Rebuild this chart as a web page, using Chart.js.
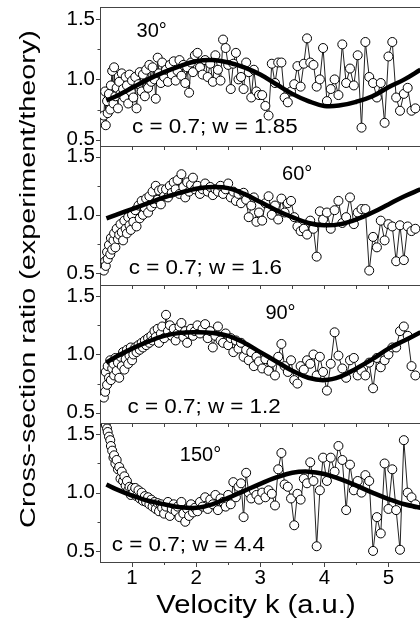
<!DOCTYPE html>
<html>
<head>
<meta charset="utf-8">
<script src="https://cdn.jsdelivr.net/npm/chart.js@4.4.0/dist/chart.umd.min.js"></script>
<style>
  html, body { margin: 0; padding: 0; overflow: hidden; background: #fff; }
  canvas { display: block; }
</style>
</head>
<body>
<canvas id="myChart" width="426" height="621"></canvas>
<script>
// velocity k of the measured points (same energies for every angle)
const kExp = [
  0.56, 0.58, 0.59, 0.61, 0.62, 0.64, 0.66, 0.67, 0.69, 0.71, 0.72, 0.74, 0.76, 0.78, 0.80, 0.82, 0.84, 0.86, 0.88, 0.90, 0.92, 0.94, 0.96, 0.98, 1.00,
  1.02, 1.05, 1.07, 1.10, 1.12, 1.15, 1.17, 1.20, 1.22, 1.25, 1.27, 1.30, 1.32, 1.35, 1.37, 1.40, 1.42, 1.45, 1.47, 1.50,
  1.53, 1.56, 1.59, 1.62, 1.65, 1.68, 1.71, 1.74, 1.77, 1.80, 1.83, 1.86, 1.89, 1.92, 1.95, 1.98,
  2.02, 2.06, 2.10, 2.14, 2.18, 2.22, 2.26, 2.30, 2.34, 2.38, 2.42, 2.46, 2.50, 2.54, 2.58, 2.62, 2.66, 2.70, 2.74, 2.78, 2.82, 2.86, 2.90, 2.94, 2.98,
  3.03, 3.08, 3.13, 3.18, 3.23, 3.28, 3.33, 3.38, 3.43, 3.48, 3.53, 3.58, 3.63, 3.68, 3.73, 3.78, 3.83, 3.88, 3.93, 3.98,
  4.04, 4.10, 4.16, 4.22, 4.28, 4.34, 4.40, 4.46, 4.52, 4.58, 4.64, 4.70, 4.76, 4.82, 4.88, 4.94, 5.00, 5.06, 5.12, 5.18, 5.24, 5.30, 5.36, 5.42
];

// measured cross-section ratio (experiment/theory)
const ratio30 = [
  0.70, 0.90, 0.62, 0.82, 0.72, 0.88, 0.75, 0.95, 1.07, 0.80, 1.10, 0.86, 0.93, 0.76, 0.98, 0.88, 1.05, 0.92, 0.85, 1.02, 0.95, 0.80, 1.04, 0.90, 0.99,
  0.85, 1.02, 0.76, 0.96, 1.06, 0.90, 1.04, 0.86, 1.08, 0.93, 1.12, 0.98, 1.10, 1.00, 0.84, 1.18, 1.05, 0.97, 1.14, 1.02,
  1.08, 0.98, 1.12, 1.04, 1.15, 0.99, 1.07, 1.16, 1.03, 1.12, 0.97, 1.10, 0.89, 1.14, 1.06, 1.20,
  1.22, 1.10, 1.04, 1.16, 1.02, 1.13, 0.98, 1.20, 1.08, 0.99, 1.33, 1.26, 1.12, 0.92, 1.13, 1.22, 1.00, 1.02, 0.92, 1.14, 1.06, 0.85, 1.08, 0.90, 0.87,
  0.87, 0.78, 0.70, 1.13, 0.97, 1.14, 1.14, 0.85, 0.81, 0.90, 0.96, 1.11, 0.94, 1.13, 1.34, 1.14, 1.12, 0.94, 1.00, 1.26,
  0.82, 0.92, 1.00, 0.87, 1.29, 0.97, 1.09, 0.95, 1.20, 0.60, 1.31, 1.02, 0.97, 0.85, 0.97, 0.64, 1.19, 1.31, 0.85, 0.74, 0.88, 0.93, 0.74, 0.76
];
const ratio60 = [
  0.52, 0.60, 0.56, 0.68, 0.62, 0.74, 0.66, 0.80, 0.70, 0.78, 0.84, 0.72, 0.88, 0.79, 0.83, 0.92, 0.85, 0.78, 0.95, 0.88, 0.84, 0.98, 0.91, 0.87, 1.00,
  0.94, 1.04, 0.90, 1.08, 0.97, 1.12, 1.00, 1.06, 1.14, 1.02, 1.16, 1.07, 1.20, 1.10, 1.25, 1.13, 1.21, 1.09, 1.22, 1.16,
  1.22, 1.15, 1.25, 1.19, 1.28, 1.22, 1.30, 1.18, 1.35, 1.24, 1.15, 1.28, 1.20, 1.26, 1.32, 1.22,
  1.25, 1.18, 1.22, 1.27, 1.20, 1.24, 1.17, 1.22, 1.20, 1.25, 1.18, 1.22, 1.27, 1.15, 1.20, 1.12, 1.18, 1.10, 1.19, 1.13, 0.98, 1.08, 1.15, 0.94, 1.02,
  0.95, 1.10, 1.16, 1.00, 1.08, 0.96, 1.14, 1.02, 1.10, 1.12, 0.98, 0.90, 0.86, 0.88, 0.83, 0.95, 0.88, 0.64, 1.03, 0.96,
  1.02, 0.88, 1.04, 1.12, 0.93, 0.98, 1.15, 0.92, 1.02, 1.05, 1.05, 0.52, 0.81, 0.72, 0.95, 0.78, 0.92, 0.90, 0.60, 0.91, 0.61, 0.90, 0.86, 0.88
];
const ratio90 = [
  0.63, 0.68, 0.85, 0.74, 0.90, 0.80, 0.95, 0.78, 0.88, 0.92, 0.82, 0.97, 0.86, 0.93, 0.80, 0.98, 0.90, 1.02, 0.87, 0.96, 1.04, 0.92, 0.99, 1.06, 0.95,
  1.00, 1.06, 1.02, 1.08, 1.04, 1.10, 1.06, 1.12, 1.08, 1.14, 1.10, 1.16, 1.12, 1.20, 1.15, 1.22, 1.10, 1.18, 1.24, 1.14,
  1.34, 1.20, 1.25, 1.16, 1.22, 1.12, 1.18, 1.24, 1.27, 1.15, 1.20, 1.10, 1.18, 1.22, 1.16, 1.20,
  1.25, 1.18, 1.22, 1.26, 1.14, 1.20, 1.06, 1.16, 1.24, 1.12, 1.10, 1.18, 1.08, 1.14, 1.02, 1.12, 1.05, 1.10, 0.98, 1.04, 0.95, 1.02, 0.90, 0.98, 0.94,
  0.88, 0.96, 0.86, 0.93, 0.82, 0.98, 1.09, 0.90, 0.85, 0.95, 0.78, 0.75, 0.90, 0.87, 0.95, 0.92, 1.00, 0.82, 0.98, 0.85,
  0.69, 0.92, 1.19, 0.99, 0.88, 0.80, 0.95, 0.97, 0.82, 0.86, 0.82, 0.93, 0.71, 0.97, 0.89, 0.95, 1.00, 1.06, 1.06, 1.20, 1.24, 1.16, 0.90, 0.82
];
const ratio150 = [
  1.62, 1.60, 1.58, 1.55, 1.52, 1.48, 1.45, 1.40, 1.36, 1.30, 1.32, 1.25, 1.28, 1.20, 1.22, 1.12, 1.18, 1.10, 1.14, 1.06, 1.10, 1.02, 1.05, 0.98, 1.04,
  1.00, 1.04, 0.97, 1.02, 0.95, 1.00, 0.93, 0.97, 0.92, 0.96, 0.90, 0.94, 0.88, 0.92, 0.86, 0.91, 0.84, 0.90, 0.87, 0.82,
  0.88, 0.92, 0.80, 0.86, 0.90, 0.84, 0.88, 0.79, 0.92, 0.82, 0.75, 0.86, 0.80, 0.90, 0.83, 0.87,
  0.84, 0.92, 0.88, 0.96, 0.86, 0.94, 0.90, 0.98, 0.85, 0.95, 0.92, 0.88, 0.98, 0.90, 1.09, 0.96, 1.05, 1.08, 0.79, 1.17, 1.00, 0.95, 1.02, 0.98, 0.94,
  1.00, 0.96, 1.02, 0.99, 0.89, 1.20, 1.34, 1.07, 1.05, 0.95, 0.72, 0.99, 0.94, 1.12, 1.08, 1.26, 1.10, 0.54, 1.02, 1.30,
  1.10, 1.30, 1.18, 1.40, 1.28, 0.85, 1.24, 1.02, 1.10, 1.00, 1.15, 1.10, 0.50, 0.79, 0.65, 1.25, 0.86, 1.20, 0.85, 0.51, 1.45, 1.00, 0.96, 0.90
];

// model curves (thick black lines)
const kTheory = [0.6, 0.75, 1.0, 1.25, 1.5, 1.75, 2.0, 2.25, 2.5, 2.75, 3.0, 3.25, 3.5, 3.75, 4.0, 4.25, 4.5, 4.75, 5.0, 5.25, 5.5];
const theory30 = [0.825, 0.86, 0.93, 1.0, 1.06, 1.11, 1.15, 1.16, 1.14, 1.10, 1.04, 0.96, 0.88, 0.82, 0.78, 0.785, 0.815, 0.86, 0.935, 1.0, 1.08];
const theory60 = [0.97, 1.0, 1.05, 1.10, 1.15, 1.19, 1.225, 1.24, 1.23, 1.18, 1.11, 1.04, 0.98, 0.93, 0.91, 0.92, 0.96, 1.02, 1.09, 1.16, 1.22];
const theory90 = [0.93, 0.98, 1.05, 1.11, 1.16, 1.185, 1.19, 1.185, 1.16, 1.10, 1.02, 0.94, 0.86, 0.80, 0.78, 0.81, 0.88, 0.96, 1.05, 1.12, 1.19];
const theory150 = [1.07, 1.03, 0.975, 0.93, 0.90, 0.875, 0.87, 0.90, 0.955, 1.015, 1.075, 1.13, 1.17, 1.18, 1.16, 1.115, 1.06, 1.0, 0.945, 0.90, 0.87];

const angleLabels = ["30°", "60°", "90°", "150°"];
const fitLabels = ["c = 0.7; w = 1.85", "c = 0.7; w = 1.6", "c = 0.7; w = 1.2", "c = 0.7; w = 4.4"];
const xTicks = [1, 2, 3, 4, 5];
const xMinorTicks = [1.5, 2.5, 3.5, 4.5, 5.5];
const yTicks = [0.5, 1.0, 1.5];
const yMinorTicks = [0.75, 1.25];

const FONT = '"Liberation Sans", Arial, Helvetica, sans-serif';
const FRAME = "#444";

const panels = [
  { id: "y30", exp: ratio30, fit: theory30, min: 0.45, max: 1.6, angleAt: [1.07, 1.35], fitAt: [1.0, 0.555] },
  { id: "y60", exp: ratio60, fit: theory60, min: 0.40, max: 1.595, angleAt: [3.34, 1.30], fitAt: [0.948, 0.49] },
  { id: "y90", exp: ratio90, fit: theory90, min: 0.41, max: 1.6, angleAt: [3.08, 1.30], fitAt: [0.93, 0.50] },
  { id: "y150", exp: ratio150, fit: theory150, min: 0.405, max: 1.595, angleAt: [1.746, 1.27], fitAt: [0.685, 0.50] }
];

const datasets = [];
const scales = {
  x: {
    type: "linear",
    min: 0.5,
    max: 5.5,
    afterBuildTicks: (axis) => { axis.ticks = xTicks.map((v) => ({ value: v })); },
    afterFit: (axis) => { axis.height = 59; axis.paddingLeft = 0; axis.paddingRight = 0; },
    ticks: { color: "#000", font: { family: FONT, size: 20.5 }, padding: 4, autoSkip: false, maxRotation: 0, callback: (v) => String(v) },
    grid: { display: false, drawTicks: false },
    border: { display: true, color: FRAME, width: 1 }
  }
};

panels.forEach((p, i) => {
  datasets.push({
    data: kExp.map((k, j) => ({ x: k, y: p.exp[j] })),
    yAxisID: p.id,
    borderColor: "#222",
    borderWidth: 1,
    pointRadius: 4.5,
    pointBackgroundColor: "#fff",
    pointBorderColor: "#000",
    pointBorderWidth: 1,
    order: 1
  });
  datasets.push({
    data: kTheory.map((k, j) => ({ x: k, y: p.fit[j] })),
    yAxisID: p.id,
    borderColor: "#000",
    borderWidth: 4.5,
    pointRadius: 0,
    tension: 0.4,
    order: 0
  });
  scales[p.id] = {
    type: "linear",
    position: "left",
    stack: "ratio",
    stackWeight: 1,
    weight: panels.length - i, // heavier boxes go on top of the stack
    min: p.min,
    max: p.max,
    afterBuildTicks: (axis) => { axis.ticks = yTicks.map((v) => ({ value: v })); },
    afterFit: (axis) => { axis.width = 100; axis.paddingTop = 0; axis.paddingBottom = 0; },
    ticks: { color: "#000", font: { family: FONT, size: 20.5 }, padding: 5, callback: (v) => v.toFixed(1) },
    grid: { display: false, drawTicks: false },
    border: { display: true, color: FRAME, width: 1 }
  };
});

function hLine(ctx, x1, x2, y) {
  ctx.beginPath();
  ctx.moveTo(x1, Math.round(y) + 0.5);
  ctx.lineTo(x2, Math.round(y) + 0.5);
  ctx.stroke();
}
function vLine(ctx, x, y1, y2) {
  ctx.beginPath();
  ctx.moveTo(Math.round(x) + 0.5, y1);
  ctx.lineTo(Math.round(x) + 0.5, y2);
  ctx.stroke();
}
function stretchedText(ctx, text, x, y, sx) {
  ctx.save();
  ctx.translate(x, y);
  ctx.scale(sx, 1);
  ctx.fillText(text, 0, 0);
  ctx.restore();
}

// frame, tick marks and the in-panel labels
const panelDecor = {
  id: "panelDecor",
  afterDraw(chart) {
    const { ctx, chartArea } = chart;
    const xs = chart.scales.x;
    ctx.save();
    ctx.strokeStyle = FRAME;
    ctx.lineWidth = 1;
    hLine(ctx, chartArea.left, chartArea.right, chartArea.top);

    panels.forEach((p, i) => {
      const ys = chart.scales[p.id];
      if (i > 0) {
        hLine(ctx, chartArea.left, chartArea.right, ys.top);
        xTicks.concat(xMinorTicks).forEach((v) => {
          vLine(ctx, xs.getPixelForValue(v), Math.round(ys.top) + 1, Math.round(ys.top) + 4);
        });
      }
      yTicks.forEach((v) => hLine(ctx, chartArea.left - 4, chartArea.left, ys.getPixelForValue(v)));
      yMinorTicks.forEach((v) => hLine(ctx, chartArea.left - 2.5, chartArea.left, ys.getPixelForValue(v)));
    });

    xTicks.forEach((v) => vLine(ctx, xs.getPixelForValue(v), chartArea.bottom, chartArea.bottom + 5));
    xMinorTicks.forEach((v) => vLine(ctx, xs.getPixelForValue(v), chartArea.bottom, chartArea.bottom + 3));

    ctx.fillStyle = "#000";
    ctx.textAlign = "left";
    ctx.textBaseline = "alphabetic";
    panels.forEach((p, i) => {
      const ys = chart.scales[p.id];
      ctx.font = "20px " + FONT;
      stretchedText(ctx, angleLabels[i], xs.getPixelForValue(p.angleAt[0]), ys.getPixelForValue(p.angleAt[1]), 1.0);
      stretchedText(ctx, fitLabels[i], xs.getPixelForValue(p.fitAt[0]), ys.getPixelForValue(p.fitAt[1]), 1.12);
    });

    // axis titles
    ctx.textAlign = "center";
    ctx.font = "26.5px " + FONT;
    stretchedText(ctx, "Velocity k (a.u.)", 256, 613, 1.1);

    ctx.save();
    ctx.translate(29, 279);
    ctx.rotate(-Math.PI / 2);
    ctx.scale(1.28, 1);
    ctx.font = "22.5px " + FONT;
    ctx.textBaseline = "middle";
    ctx.fillText("Cross-section ratio (experiment/theory)", 0, 0);
    ctx.restore();

    ctx.restore();
  }
};

new Chart(document.getElementById("myChart"), {
  type: "line",
  data: { datasets: datasets },
  options: {
    responsive: false,
    animation: false,
    layout: { padding: { top: 7, right: 0, bottom: 0, left: 0 } },
    plugins: { legend: { display: false }, tooltip: { enabled: false } },
    scales: scales
  },
  plugins: [panelDecor]
});
</script>
</body>
</html>
